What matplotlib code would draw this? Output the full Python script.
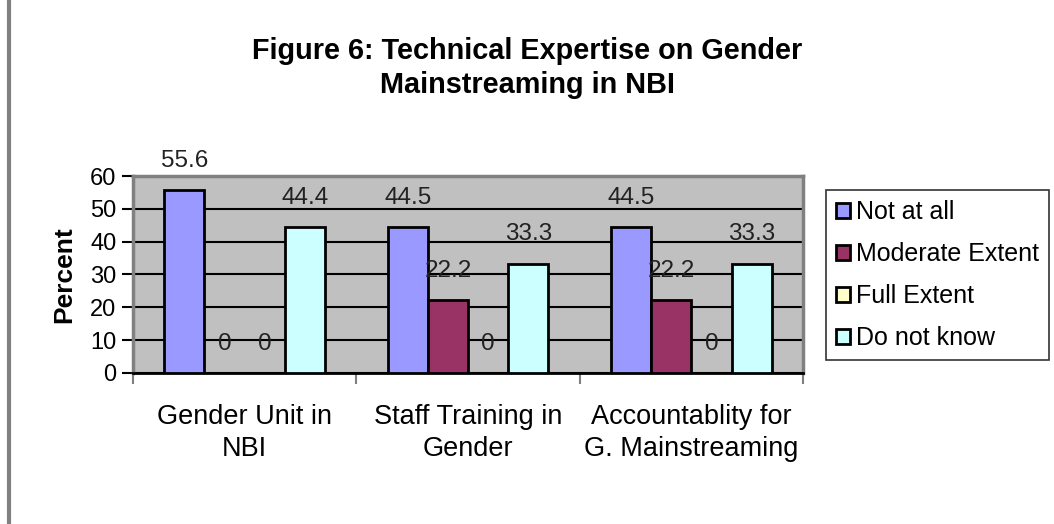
import numpy as np
import matplotlib
matplotlib.use("Agg")
import matplotlib.pyplot as plt
from matplotlib.lines import Line2D

plt.rcParams['font.family'] = ['Liberation Sans', 'DejaVu Sans']

# data
categories = ['Gender Unit in\nNBI', 'Staff Training in\nGender', 'Accountablity for\nG. Mainstreaming']
series_names = ['Not at all', 'Moderate Extent', 'Full Extent', 'Do not know']
not_at_all = [55.6, 44.5, 44.5]
moderate_extent = [0, 22.2, 22.2]
full_extent = [0, 0, 0]
do_not_know = [44.4, 33.3, 33.3]
colors = ['#9999FF', '#993366', '#FFFFCC', '#CCFFFF']

series = [not_at_all, moderate_extent, full_extent, do_not_know]

fig = plt.figure(figsize=(10.54, 5.24), dpi=100)
ax = fig.add_axes([0.1262, 0.2882, 0.6357, 0.3759])
ax.set_facecolor('#C0C0C0')

x = np.arange(len(categories))
width = 0.18
for i, (vals, name, col) in enumerate(zip(series, series_names, colors)):
    pos = x + (i - 1.5) * width
    bars = ax.bar(pos, vals, width, color=col, edgecolor='black', linewidth=2,
                  label=name, zorder=3)
    # value labels sit well above each bar, Excel style
    for b, v in zip(bars, vals):
        ax.annotate(f"{v:g}", (b.get_x() + b.get_width() / 2, v),
                    xytext=(0, 21), textcoords='offset points',
                    ha='center', va='center', fontsize=17.5, color='#222222',
                    zorder=4, annotation_clip=False)

ax.set_ylim(0, 60)
ax.set_xlim(-0.5, 2.5)
ax.set_yticks(np.arange(0, 61, 10))
ax.yaxis.grid(True, color='black', linewidth=1.5, zorder=1)
ax.set_axisbelow(True)
ax.tick_params(axis='y', labelsize=17, length=8, width=1.5, pad=4)

ax.set_xticks(x)
ax.set_xticklabels(categories, fontsize=19.5, linespacing=1.32)
ax.set_xticks([-0.5, 0.5, 1.5, 2.5], minor=True)
ax.tick_params(axis='x', which='major', length=0, pad=22)
ax.tick_params(axis='x', which='minor', length=8, width=1.5, color='#808080')

for s in ['left', 'top', 'right']:
    ax.spines[s].set_color('#808080')
    ax.spines[s].set_linewidth(2.5)
ax.spines['bottom'].set_color('black')
ax.spines['bottom'].set_linewidth(2)

ax.set_ylabel('Percent', fontsize=19, fontweight='bold', labelpad=10)

fig.text(0.5, 0.87, 'Figure 6: Technical Expertise on Gender\nMainstreaming in NBI',
         ha='center', va='center', fontsize=20.8, fontweight='bold', linespacing=1.3)

leg = fig.legend(loc='upper left', bbox_to_anchor=(0.784, 0.637), borderaxespad=0,
                 fontsize=18, frameon=True, fancybox=False, edgecolor='black',
                 handlelength=0.55, handleheight=0.55, handletextpad=0.25,
                 labelspacing=0.72, borderpad=0.4)
leg.get_frame().set_linewidth(1.2)

# gray chart-area edge on the left
fig.add_artist(Line2D([0.009, 0.009], [0, 1], transform=fig.transFigure,
                      color='#808080', linewidth=3))

fig.savefig('out.png', dpi=100)
